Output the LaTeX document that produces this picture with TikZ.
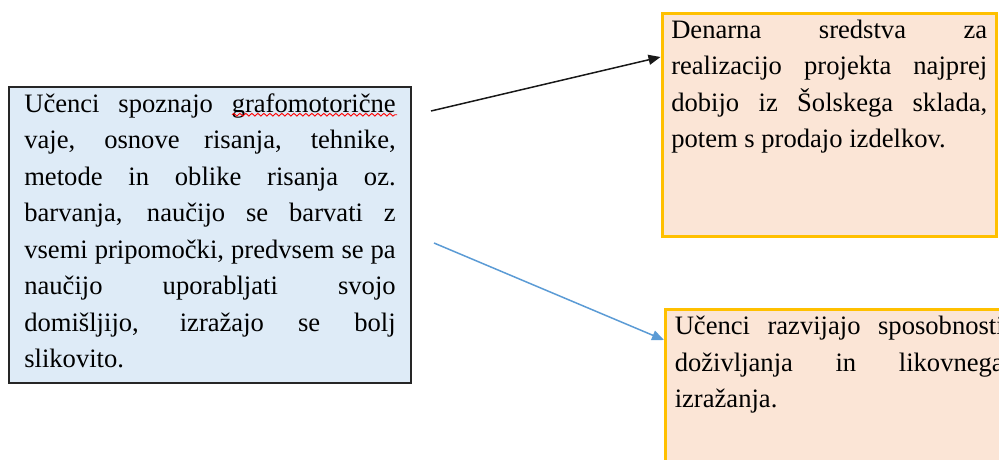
\documentclass[tikz,border=0pt]{standalone}
\usepackage{fontspec}
\setmainfont{Liberation Serif}
\usetikzlibrary{arrows.meta,decorations.pathmorphing}
\definecolor{boxblue}{HTML}{DEEBF7}
\definecolor{boxpeach}{HTML}{FBE5D6}
\definecolor{boxgold}{HTML}{FFC000}
\definecolor{arrowblue}{HTML}{5B9BD5}
\tolerance=10000
\hyphenpenalty=10000

\begin{document}
\begin{tikzpicture}[x=1pt,y=-1pt,
		textbox/.style={anchor=north west, align=justify, inner ysep=0pt, font=\fontsize{26.6}{36.5}\selectfont},
		goalbox/.style={textbox, draw=boxgold, fill=boxpeach, line width=3pt, inner xsep=9.25pt},
		link/.style={line width=1.5pt, -{Triangle[length=12pt,width=10pt]}},
		spellwave/.style={red, line width=0.9pt, decorate, decoration={snake, amplitude=1.4pt, segment length=6pt}}]
		\useasboundingbox (0,0) rectangle (999,459);
		\clip (0,0) rectangle (999,459);
		\node[textbox, draw=black!85, fill=boxblue, line width=2pt, text width=371.4pt, inner xsep=15.3pt] (ucenci) at (8,86)
			{\rule{0pt}{25pt}Učenci spoznajo grafomotorične\linebreak vaje, osnove risanja, tehnike,\linebreak metode in oblike risanja oz.\linebreak barvanja, naučijo se barvati z\linebreak vsemi pripomočki, predvsem se pa\linebreak naučijo uporabljati svojo\linebreak domišljijo, izražajo se bolj\linebreak slikovito.\rule[-15.5pt]{0pt}{0pt}};
		\draw[spellwave] (232,114.7) -- (397,114.7);
		\node[goalbox, text width=316pt] (denar) at (660.5,11.5)
			{\rule{0pt}{25.2pt}Denarna sredstva za\linebreak realizacijo projekta najprej\linebreak dobijo iz Šolskega sklada,\linebreak potem s prodajo izdelkov.\rule[-88.3pt]{0pt}{0pt}};
		\node[goalbox, text width=329pt] (razvoj) at (664,308)
			{\rule{0pt}{25.3pt}Učenci razvijajo sposobnosti\linebreak doživljanja in likovnega\linebreak izražanja.\rule[-127pt]{0pt}{0pt}};
		\coordinate (ucenciA) at (431,111);
		\coordinate (ucenciB) at (434,243);
		\draw[link, black!90] (ucenciA) -- ([yshift=-45.5pt]denar.north west);
		\draw[link, arrowblue] (ucenciB) -- ([yshift=-32pt]razvoj.north west);
\end{tikzpicture}
\end{document}
